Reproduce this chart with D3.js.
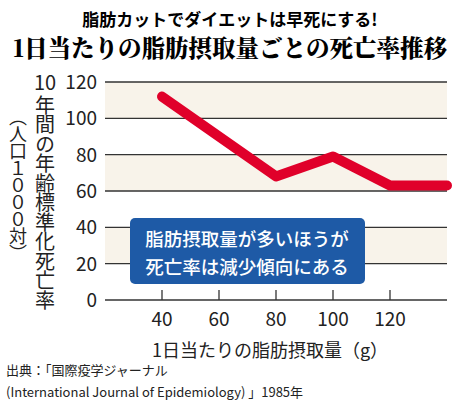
<!DOCTYPE html>
<html><head><meta charset="utf-8">
<script src="https://cdn.jsdelivr.net/npm/d3@7"></script>
<style>body{margin:0;background:#fff}text{font-family:"Noto Sans CJK JP",sans-serif}</style>
</head><body><svg id="c" width="460" height="404"></svg>
<script>
const fatIntake = [40, 80, 100, 120, 140];
const deathRate = [112, 68, 79, 63, 63];
const xTicks = [40, 60, 80, 100, 120];
const yTicks = [0, 20, 40, 60, 80, 100, 120];
const bands = [[100, 120], [60, 80], [20, 40]];

const svg = d3.select("#c");
const x = d3.scaleLinear().domain([20, 140]).range([105, 447]);
const y = d3.scaleLinear().domain([0, 120]).range([300, 82]);

// title
svg.append("text").attr("x", 230).attr("y", 26).attr("text-anchor", "middle")
  .attr("font-size", 17).attr("font-weight", 700).text("脂肪カットでダイエットは早死にする!");
svg.append("text").attr("x", 230).attr("y", 57).attr("text-anchor", "middle")
  .attr("font-size", 23.5).attr("font-weight", 900).attr("style", "font-family:'Noto Serif CJK JP','Noto Sans CJK JP'")
  .text("1日当たりの脂肪摂取量ごとの死亡率推移");

// bands
svg.selectAll("rect.band").data(bands).join("rect").attr("class", "band")
  .attr("x", 105).attr("width", 342)
  .attr("y", d => y(d[1])).attr("height", d => y(d[0]) - y(d[1]))
  .attr("fill", "#f8f3ea");

// grid
svg.selectAll("line.grid").data(yTicks).join("line").attr("class", "grid")
  .attr("x1", 105).attr("x2", 447).attr("y1", d => y(d)).attr("y2", d => y(d))
  .attr("stroke", "#333").attr("stroke-width", 1.3);
svg.selectAll("line.xt").data(xTicks).join("line").attr("class", "xt")
  .attr("x1", d => x(d)).attr("x2", d => x(d)).attr("y1", 290).attr("y2", 300)
  .attr("stroke", "#333").attr("stroke-width", 1.3);

// tick labels
svg.selectAll("text.yl").data(yTicks).join("text").attr("class", "yl")
  .attr("x", 97).attr("y", d => y(d) + 7).attr("text-anchor", "end")
  .attr("font-size", 19).attr("fill", "#222").text(d => d);
svg.selectAll("text.xl").data(xTicks).join("text").attr("class", "xl")
  .attr("x", d => x(d)).attr("y", 326).attr("text-anchor", "middle")
  .attr("font-size", 19).attr("fill", "#222").text(d => d);

// line
svg.append("path").datum(fatIntake.map((v, i) => [v, deathRate[i]]))
  .attr("d", d3.line().x(d => x(d[0])).y(d => y(d[1])))
  .attr("fill", "none").attr("stroke", "#e0002a").attr("stroke-width", 10)
  .attr("stroke-linejoin", "round").attr("stroke-linecap", "round");

// callout
svg.append("rect").attr("x", 130).attr("y", 218).attr("width", 235).attr("height", 66)
  .attr("rx", 5).attr("fill", "#1e5aa6");
svg.append("text").attr("x", 247).attr("y", 246).attr("text-anchor", "middle")
  .attr("font-size", 18.5).attr("font-weight", 500).attr("fill", "#fff").text("脂肪摂取量が多いほうが");
svg.append("text").attr("x", 247).attr("y", 274).attr("text-anchor", "middle")
  .attr("font-size", 18.5).attr("font-weight", 500).attr("fill", "#fff").text("死亡率は減少傾向にある");

// y axis label
svg.append("text").attr("x", 45).attr("y", 90).attr("text-anchor", "middle")
  .attr("font-size", 20).attr("fill", "#222").text("10");
svg.append("text").attr("x", 45).attr("y", 95).attr("font-size", 20).attr("fill", "#222")
  .attr("style", "writing-mode:vertical-rl;letter-spacing:-0.5px").text("年間の年齢標準化死亡率");
svg.append("text").attr("x", 18).attr("y", 108).attr("font-size", 18).attr("fill", "#222")
  .attr("style", "writing-mode:vertical-rl;letter-spacing:-1px").text("（人口１０００対）");

// x axis label
svg.append("text").attr("x", 270).attr("y", 357).attr("text-anchor", "middle")
  .attr("font-size", 18).attr("fill", "#222").text("1日当たりの脂肪摂取量（g）");

// source
svg.append("text").attr("x", 6).attr("y", 375).attr("font-size", 13).attr("fill", "#222")
  .text("出典：「国際疫学ジャーナル");
svg.append("text").attr("x", 6).attr("y", 397).attr("font-size", 13).attr("fill", "#222")
  .text("(International Journal of Epidemiology) 」1985年");
</script></body></html>
